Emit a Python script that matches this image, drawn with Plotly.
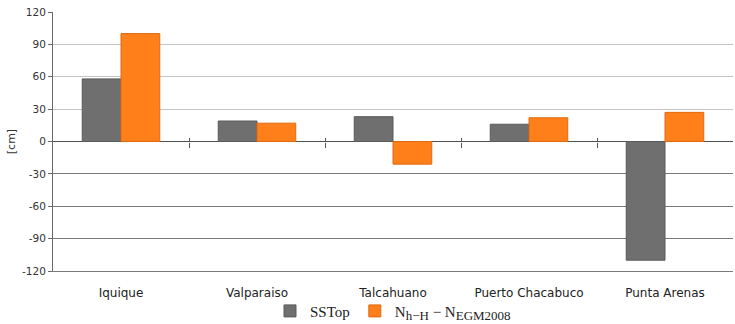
import plotly.graph_objects as go

# Stations and offsets (cm)
stations = ["Iquique", "Valparaiso", "Talcahuano", "Puerto Chacabuco", "Punta Arenas"]
sstop = [58, 19, 23, 16, -110]
n_diff = [100, 17, -21, 22, 27]

upper_ticks = [0, 30, 60, 90, 120]
lower_ticks = [-30, -60, -90, -120]
tick_text = ["0", "30", "60", "90", "120"]
lower_text = ["-30", "-60", "-90", "-120"]
boundaries = [0.5, 1.5, 2.5, 3.5]

GRAY = "#6f6f6f"
ORANGE = "#ff7f1a"

SUB = '<sub><span style="font-size:13px">{}</span></sub>'
n_name = "N" + SUB.format("h\u2212H") + " \u2212 N" + SUB.format("EGM2008")

fig = go.Figure()
fig.add_trace(go.Bar(
    x=list(range(len(stations))), y=sstop, name="SSTop",
    marker=dict(color=GRAY, line=dict(color="#5a5a5a", width=1)),
))
fig.add_trace(go.Bar(
    x=list(range(len(stations))), y=n_diff, name=n_name,
    marker=dict(color=ORANGE, line=dict(color="#e06a10", width=1)),
))

axis_font = dict(family="DejaVu Sans", size=10.5, color="#333333")

fig.update_layout(
    width=735, height=324,
    margin=dict(l=53, r=2, t=12, b=53, autoexpand=False),
    paper_bgcolor="white", plot_bgcolor="white",
    barmode="group", bargap=0.43, bargroupgap=0,
    showlegend=True,
    legend=dict(
        orientation="h", x=0.5, xanchor="center", y=-0.155, yanchor="middle",
        bgcolor="rgba(0,0,0,0)",
        font=dict(family="Liberation Serif", size=15, color="#222222"),
        itemwidth=30, tracegroupgap=0,
    ),
    xaxis=dict(
        range=[-0.5, 4.5], tickmode="array",
        tickvals=list(range(len(stations))), ticktext=stations,
        showgrid=False, zeroline=False, ticks="", ticklabelstandoff=11,
        showline=True, linecolor="#7a7a7a", linewidth=1,
        tickfont=dict(family="DejaVu Sans", size=12, color="#222222"),
    ),
    # category separators crossing the zero line
    xaxis2=dict(
        overlaying="x", anchor="free", position=0.5, side="bottom",
        range=[-0.5, 4.5], tickmode="array", tickvals=boundaries,
        showticklabels=False, ticks="outside", ticklen=5,
        tickcolor="#555555", showgrid=False, zeroline=False, showline=False,
    ),
    xaxis3=dict(
        overlaying="x", anchor="free", position=0.5, side="bottom",
        range=[-0.5, 4.5], tickmode="array", tickvals=boundaries,
        showticklabels=False, ticks="inside", ticklen=4,
        tickcolor="#555555", showgrid=False, zeroline=False, showline=False,
    ),
    yaxis=dict(
        range=[-120, 120], tickmode="array",
        tickvals=upper_ticks, ticktext=tick_text,
        showgrid=True, gridcolor="#c4c4c4", gridwidth=1,
        zeroline=True, zerolinecolor="#505050", zerolinewidth=1,
        showline=True, linecolor="#6a6a6a", linewidth=1,
        ticks="outside", ticklen=4, tickcolor="#6a6a6a",
        tickfont=axis_font,
        title=dict(text="[cm]", font=dict(family="DejaVu Sans", size=11, color="#333333"),
                   standoff=8),
    ),
    yaxis2=dict(
        overlaying="y", anchor="x", side="left",
        range=[-120, 120], tickmode="array",
        tickvals=lower_ticks, ticktext=lower_text,
        showgrid=True, gridcolor="#7a7a7a", gridwidth=1,
        zeroline=False, showline=False,
        ticks="outside", ticklen=4, tickcolor="#6a6a6a",
        tickfont=axis_font,
    ),
)

# invisible helpers so the overlay axes are drawn
for xa in ["x2", "x3"]:
    fig.add_trace(go.Scatter(x=[None], y=[None], xaxis=xa, yaxis="y",
                             showlegend=False, hoverinfo="skip"))
fig.add_trace(go.Scatter(x=[None], y=[None], xaxis="x", yaxis="y2",
                         showlegend=False, hoverinfo="skip"))

fig.write_html("out.html")
